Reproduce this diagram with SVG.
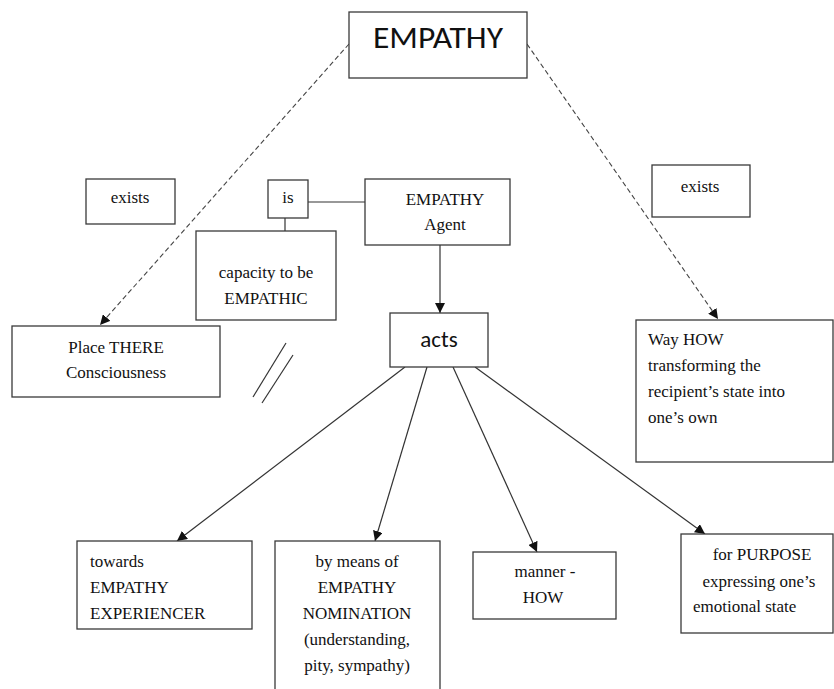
<svg xmlns="http://www.w3.org/2000/svg" width="834" height="689" viewBox="0 0 834 689">
<style>
.box{fill:#fff;stroke:#3a3a3a;stroke-width:1.3}
.t{font-size:17px;fill:#111}
.c{text-anchor:middle}
.s{fill:#111}
.ln{stroke:#333;stroke-width:1.2;fill:none}
.dash{stroke:#444;stroke-width:1.1;fill:none;stroke-dasharray:5 3}
</style>
<defs>
<marker id="ah" viewBox="0 0 10 10" refX="10" refY="5" markerWidth="10" markerHeight="10" markerUnits="userSpaceOnUse" orient="auto">
<path d="M0,0 L10,5 L0,10 Z" fill="#111"/>
</marker>
</defs>
<rect width="834" height="689" fill="#fff"/>
<g id="connectors">
<line class="dash" x1="349" y1="44" x2="100" y2="325" marker-end="url(#ah)"/>
<line class="dash" x1="527" y1="44" x2="718" y2="319" marker-end="url(#ah)"/>
<line class="ln" x1="308" y1="202" x2="365" y2="202"/>
<line class="ln" x1="285" y1="218" x2="285" y2="231"/>
<line class="ln" x1="440" y1="245" x2="440" y2="313" marker-end="url(#ah)"/>
<line class="ln" x1="405" y1="367" x2="177" y2="541" marker-end="url(#ah)"/>
<line class="ln" x1="427" y1="367" x2="375" y2="541" marker-end="url(#ah)"/>
<line class="ln" x1="453" y1="367" x2="537" y2="552" marker-end="url(#ah)"/>
<line class="ln" x1="475" y1="367" x2="705" y2="534" marker-end="url(#ah)"/>
<line class="ln" x1="286" y1="343" x2="253" y2="397"/>
<line class="ln" x1="293" y1="355" x2="262" y2="403"/>
</g>
<g font-family="Liberation Serif, Times New Roman, serif">
<g id="empathy" font-family="Carlito, Liberation Sans, sans-serif">
<rect class="box" x="349" y="12" width="178" height="66"/>
<text class="s c" x="438" y="48" font-size="30" textLength="130" lengthAdjust="spacingAndGlyphs">EMPATHY</text>
</g>
<g id="exists-left">
<rect class="box" x="86" y="179" width="89" height="45"/>
<text class="t c" x="130" y="203">exists</text>
</g>
<g id="is">
<rect class="box" x="268" y="180" width="40" height="38"/>
<text class="t c" x="288" y="203">is</text>
</g>
<g id="agent">
<rect class="box" x="365" y="179" width="145" height="66"/>
<text class="t c" x="445" y="205">EMPATHY</text>
<text class="t c" x="445" y="230">Agent</text>
</g>
<g id="capacity">
<rect class="box" x="196" y="231" width="140" height="89"/>
<text class="t c" x="266" y="278">capacity to be</text>
<text class="t c" x="266" y="304">EMPATHIC</text>
</g>
<g id="exists-right">
<rect class="box" x="652" y="165" width="98" height="52"/>
<text class="t c" x="700" y="192">exists</text>
</g>
<g id="place">
<rect class="box" x="12" y="326" width="208" height="71"/>
<text class="t c" x="116" y="353">Place THERE</text>
<text class="t c" x="116" y="378">Consciousness</text>
</g>
<g id="acts" font-family="Carlito, Liberation Sans, sans-serif">
<rect class="box" x="390" y="313" width="98" height="54"/>
<text class="s c" x="439" y="347" font-size="23">acts</text>
</g>
<g id="way">
<rect class="box" x="636" y="320" width="197" height="142"/>
<text class="t" x="648" y="345">Way HOW</text>
<text class="t" x="648" y="371">transforming the</text>
<text class="t" x="648" y="397">recipient’s state into</text>
<text class="t" x="648" y="423">one’s own</text>
</g>
<g id="towards">
<rect class="box" x="77" y="541" width="175" height="88"/>
<text class="t" x="90" y="567">towards</text>
<text class="t" x="90" y="593">EMPATHY</text>
<text class="t" x="90" y="619">EXPERIENCER</text>
</g>
<g id="bymeans">
<rect class="box" x="275" y="541" width="165" height="160"/>
<text class="t c" x="357" y="567">by means of</text>
<text class="t c" x="357" y="593">EMPATHY</text>
<text class="t c" x="357" y="619">NOMINATION</text>
<text class="t c" x="357" y="645">(understanding,</text>
<text class="t c" x="357" y="671">pity, sympathy)</text>
</g>
<g id="manner">
<rect class="box" x="473" y="552" width="143" height="67"/>
<text class="t c" x="545" y="577">manner -</text>
<text class="t c" x="543" y="603">HOW</text>
</g>
<g id="purpose">
<rect class="box" x="681" y="534" width="152" height="99"/>
<text class="t c" x="762" y="560">for PURPOSE</text>
<text class="t c" x="759" y="587">expressing one’s</text>
<text class="t" x="693" y="612">emotional state</text>
</g>
</g>
</svg>
